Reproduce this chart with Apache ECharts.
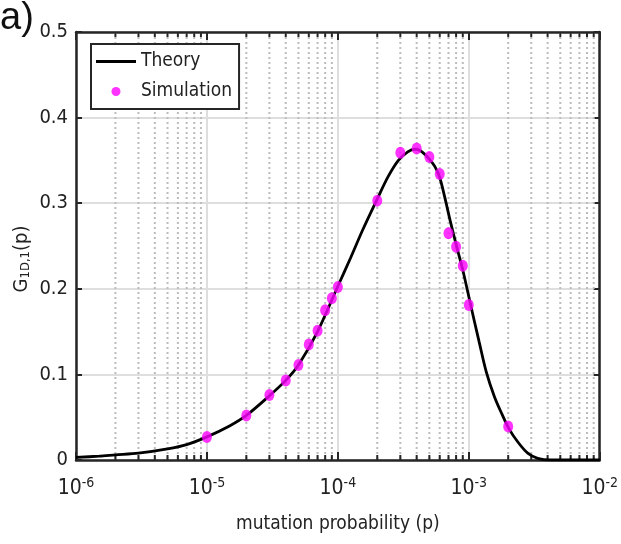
<!DOCTYPE html>
<html>
<head>
<meta charset="utf-8">
<script src="https://cdn.jsdelivr.net/npm/echarts@6/dist/echarts.min.js"></script>
<style>html,body{margin:0;padding:0;background:#fff}#c{width:621px;height:544px}</style>
</head>
<body>
<div id="c"></div>
<script>
// Theory curve (p, G)
var theoryP = [1e-6,1.5e-6,2e-6,3e-6,5e-6,7e-6,1e-5,1.5e-5,2e-5,3e-5,4e-5,5e-5,7e-5,1e-4,1.25e-4,1.55e-4,2.0e-4,2.42e-4,2.9e-4,3.42e-4,3.87e-4,4.3e-4,4.9e-4,5.5e-4,6.0e-4,6.6e-4,7.2e-4,8.0e-4,9.0e-4,1.0e-3,1.1e-3,1.2e-3,1.36e-3,1.57e-3,1.8e-3,2.02e-3,2.37e-3,2.82e-3,3.36e-3,4.2e-3,6e-3,1e-2];
var theoryG = [0.003,0.0045,0.006,0.008,0.013,0.018,0.027,0.040,0.052,0.075,0.093,0.111,0.150,0.203,0.236,0.269,0.305,0.331,0.350,0.360,0.363,0.361,0.353,0.343,0.330,0.305,0.280,0.252,0.222,0.191,0.163,0.138,0.103,0.074,0.053,0.037,0.021,0.008,0.002,0.0,0.0,0.0];
// Simulation points
var simP = [1e-5,2e-5,3e-5,4e-5,5e-5,6e-5,7e-5,8e-5,9e-5,1e-4,2e-4,3e-4,4e-4,5e-4,6e-4,7e-4,8e-4,9e-4,1e-3,2e-3];
var simG = [0.027,0.052,0.076,0.093,0.111,0.135,0.151,0.175,0.189,0.202,0.303,0.359,0.364,0.354,0.334,0.265,0.249,0.227,0.181,0.039];
// Minor log positions
var minorP = [];
[1e-6,1e-5,1e-4,1e-3].forEach(function(d){for(var k=2;k<=9;k++){minorP.push(+(k*d).toPrecision(3));}});

var FONT = "'DejaVu Sans Condensed','Liberation Sans Narrow','Liberation Sans',sans-serif";
var AX = '#262626';
var TXT = '#222';

var chart = echarts.init(document.getElementById('c'), null, {renderer:'canvas'});

function zip(a,b){return a.map(function(v,i){return [v,b[i]];});}

var option = {
  backgroundColor:'#fff',
  animation:false,
  textStyle:{fontFamily:FONT},
  graphic:[{type:'text',left:0,top:0,style:{text:'a)',font:'38px "Liberation Sans", sans-serif',fill:'#111'}}],
  grid:{left:76,right:18,top:32,bottom:84,containLabel:false},
  legend:{
    left:91,top:44,orient:'vertical',
    backgroundColor:'#fff',borderColor:AX,borderWidth:2,borderRadius:0,
    padding:[8,7,8,5],itemGap:11,itemWidth:40,itemHeight:9,
    textStyle:{fontFamily:FONT,fontSize:19,color:TXT},
    data:[{name:'Theory',icon:'path://M0,0L40,0L40,3L0,3Z',itemStyle:{color:'#000'}},{name:'Simulation',icon:'circle'}]
  },
  xAxis:[{
    type:'log',logBase:10,min:1e-6,max:1e-2,position:'bottom',
    name:'mutation probability (p)',nameLocation:'middle',nameGap:55,nameMoveOverlap:false,
    nameTextStyle:{fontFamily:FONT,fontSize:19,color:TXT},
    axisLine:{show:true,onZero:false,lineStyle:{color:AX,width:2.5}},
    axisTick:{show:true,inside:true,length:8,lineStyle:{color:AX,width:2}},
    axisLabel:{margin:16,color:TXT,formatter:function(v){var e=Math.round(Math.log10(v));return '{b|10}{s|'+e+'}';},
      rich:{b:{fontFamily:FONT,fontSize:21,color:TXT},s:{fontFamily:FONT,fontSize:14,color:TXT,verticalAlign:'bottom',padding:[0,0,12,0]}}},
    splitLine:{show:true,lineStyle:{color:'#dedede',width:2}}
  },{
    type:'log',logBase:10,min:1e-6,max:1e-2,position:'top',
    axisLine:{show:true,onZero:false,lineStyle:{color:AX,width:2.5}},
    axisTick:{show:true,inside:true,length:8,lineStyle:{color:AX,width:2}},
    axisLabel:{show:false},splitLine:{show:false}
  }],
  yAxis:[{
    type:'value',min:0,max:0.5,interval:0.1,position:'left',
    name:'{g|G}{sub|1D,1}{g|(p)}',nameLocation:'middle',nameGap:44,nameRotate:90,nameMoveOverlap:false,
    nameTextStyle:{padding:[0,26,0,0],rich:{g:{fontFamily:FONT,fontSize:20,color:TXT},sub:{fontFamily:FONT,fontSize:13,color:TXT,verticalAlign:'bottom',padding:[7,0,0,0]}}},
    axisLine:{show:true,onZero:false,lineStyle:{color:AX,width:2.5}},
    axisTick:{show:true,inside:true,length:6,lineStyle:{color:AX,width:2}},
    axisLabel:{margin:8,color:TXT,fontFamily:FONT,fontSize:20,formatter:function(v){return v===0?'0':v.toFixed(1);}},
    splitLine:{show:true,lineStyle:{color:'#dedede',width:2}}
  },{
    type:'value',min:0,max:0.5,interval:0.1,position:'right',
    axisLine:{show:true,onZero:false,lineStyle:{color:AX,width:2.5}},
    axisTick:{show:true,inside:true,length:6,lineStyle:{color:AX,width:2}},
    axisLabel:{show:false},splitLine:{show:false}
  }],
  series:[{
    type:'custom',name:'minor',silent:true,z:1,
    xAxisIndex:0,yAxisIndex:0,
    data:minorP.map(function(p){return [p,0];}),
    renderItem:function(params,api){
      var p=api.value(0);
      var b=api.coord([p,0]), t=api.coord([p,0.5]);
      return {type:'group',children:[
        {type:'line',shape:{x1:b[0],y1:b[1]-1,x2:t[0],y2:t[1]+1},style:{stroke:'#bcbcbc',lineWidth:2,lineDash:[2,3]}},
        {type:'line',shape:{x1:b[0],y1:b[1],x2:b[0],y2:b[1]-5},style:{stroke:AX,lineWidth:2}},
        {type:'line',shape:{x1:t[0],y1:t[1],x2:t[0],y2:t[1]+5},style:{stroke:AX,lineWidth:2}}
      ]};
    }
  },{
    type:'line',name:'Theory',data:zip(theoryP,theoryG),
    symbol:'none',smooth:0.3,z:3,
    lineStyle:{color:'#000',width:2.8},itemStyle:{color:'#000'}
  },{
    type:'scatter',name:'Simulation',data:zip(simP,simG),
    symbol:'circle',symbolSize:[10,12],z:4,
    itemStyle:{color:'#ff00ff'}
  }]
};
chart.setOption(option);
</script>
</body>
</html>
